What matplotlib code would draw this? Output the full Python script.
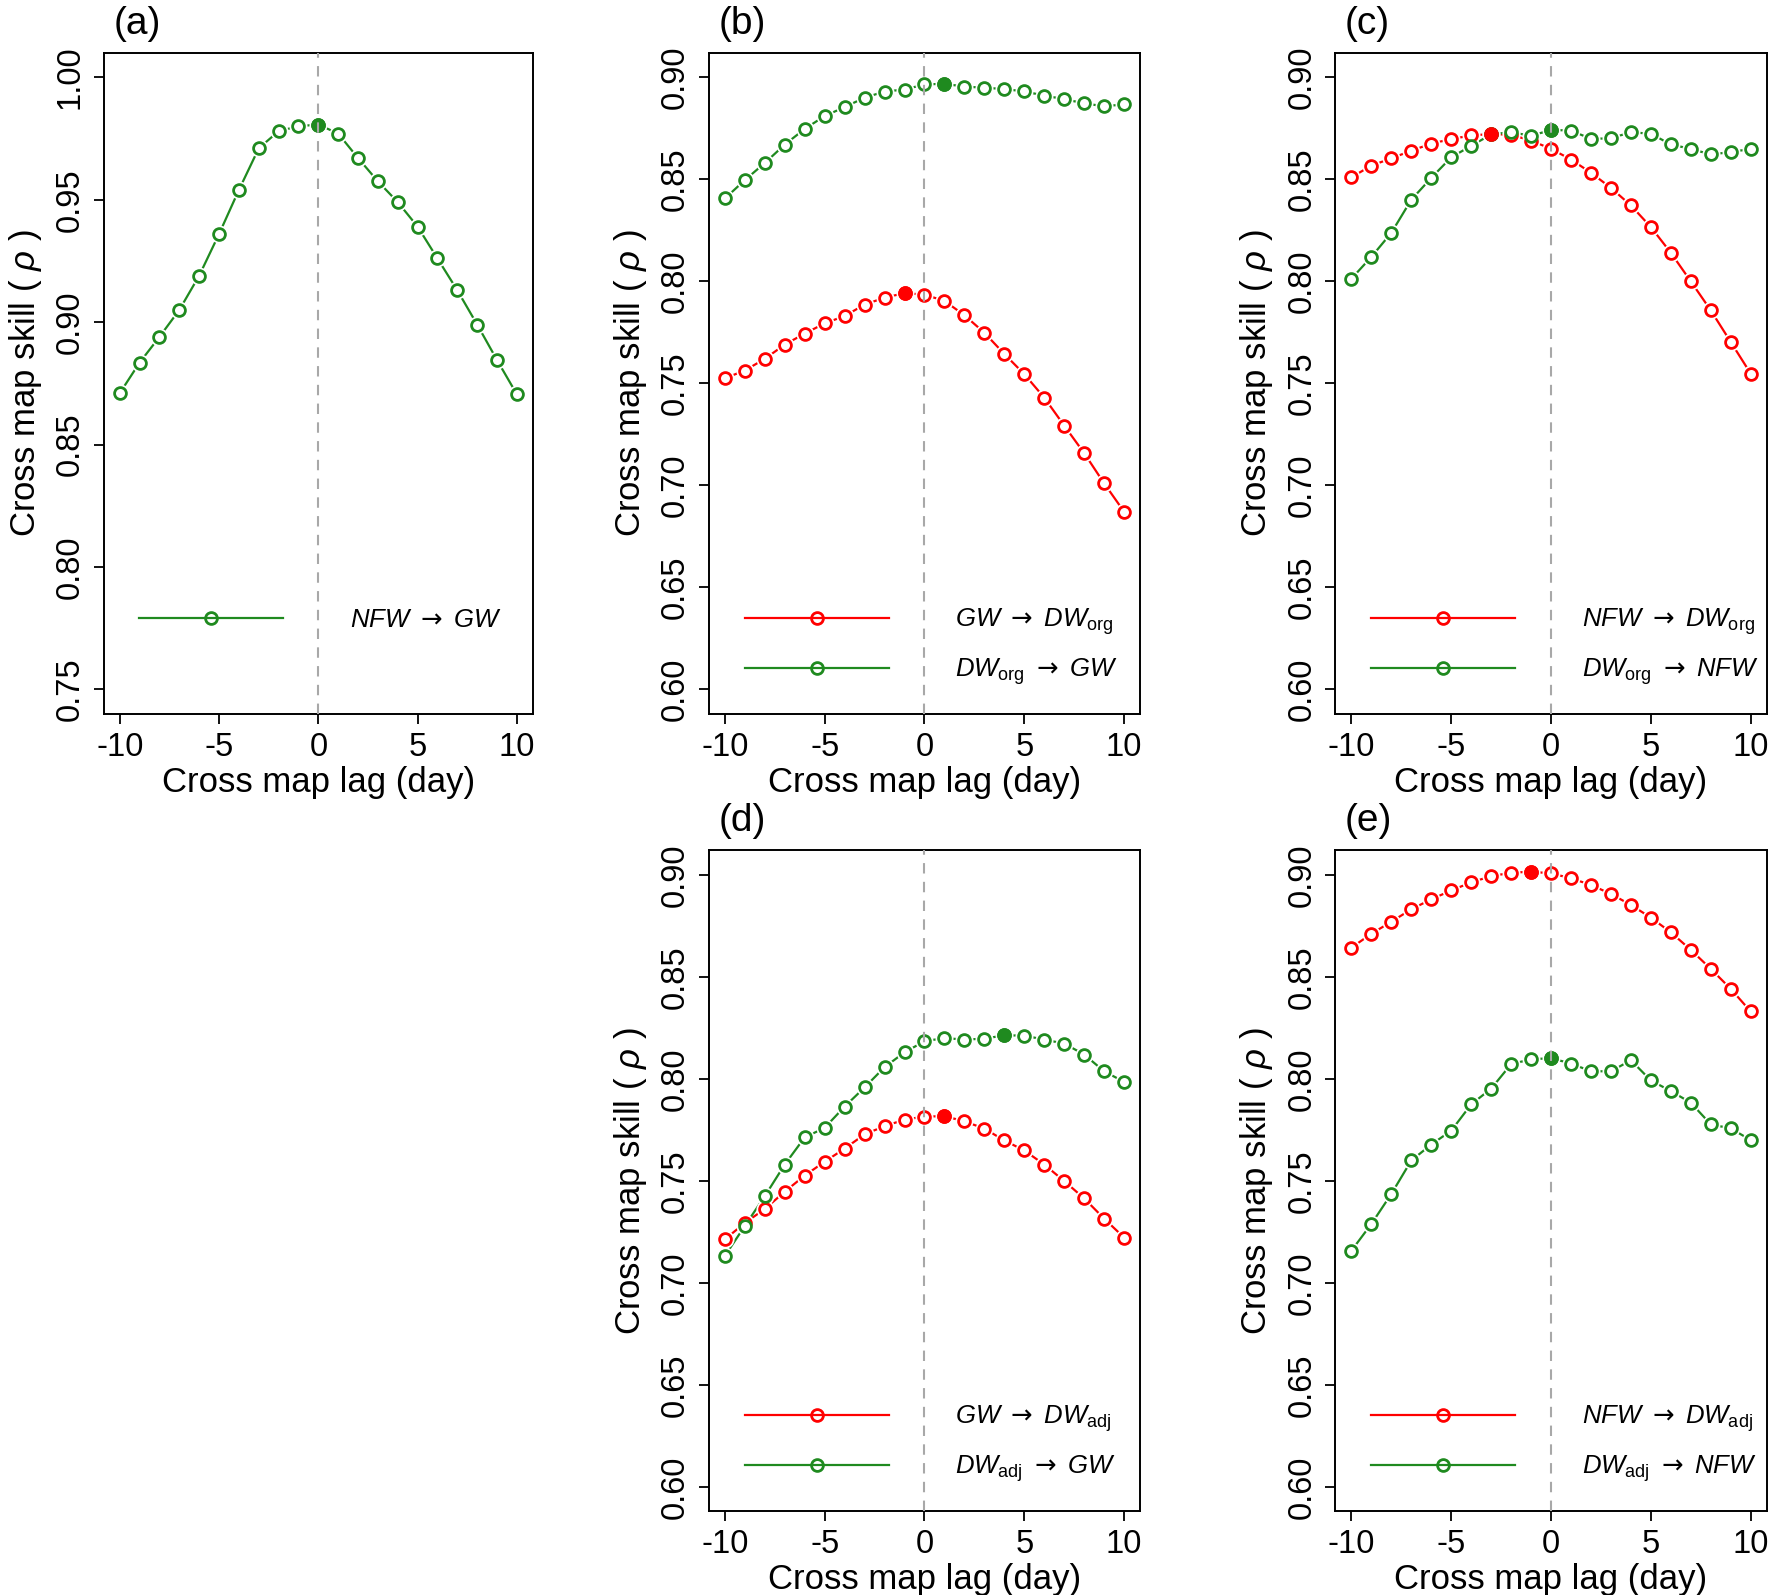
import numpy as np
import matplotlib
matplotlib.use("Agg")
import matplotlib.pyplot as plt
from matplotlib.lines import Line2D
from matplotlib.ticker import FormatStrFormatter

plt.rcParams['font.family'] = ['Liberation Sans', 'DejaVu Sans']
plt.rcParams['mathtext.fontset'] = 'custom'
plt.rcParams['mathtext.rm'] = 'Liberation Sans'
plt.rcParams['mathtext.it'] = 'Liberation Sans:italic'
plt.rcParams['mathtext.sf'] = 'DejaVu Sans'
plt.rcParams['axes.unicode_minus'] = False

# cross map lags (day)
lags = [-10, -9, -8, -7, -6, -5, -4, -3, -2, -1, 0, 1, 2, 3, 4, 5, 6, 7, 8, 9, 10]

# (a) NFW -> GW
a_nfw_gw = [0.871, 0.8835, 0.894, 0.905, 0.919, 0.936, 0.954, 0.971, 0.978, 0.980, 0.9807,
            0.977, 0.967, 0.9575, 0.949, 0.939, 0.926, 0.913, 0.899, 0.8845, 0.8705]

# (b) GW <-> DW_org
b_gw_dworg = [0.7525, 0.7563, 0.762, 0.769, 0.7744, 0.7794, 0.783, 0.7886, 0.792, 0.7942, 0.7935,
              0.7904, 0.7834, 0.7748, 0.7644, 0.7545, 0.7430, 0.7293, 0.7158, 0.7010, 0.6871]
b_dworg_gw = [0.8406, 0.8496, 0.858, 0.867, 0.8747, 0.881, 0.8854, 0.890, 0.893, 0.894, 0.8965,
              0.8968, 0.8954, 0.8949, 0.8942, 0.8931, 0.891, 0.8893, 0.8872, 0.8858, 0.8867]

# (c) NFW <-> DW_org
c_nfw_dworg = [0.851, 0.8567, 0.8603, 0.864, 0.8675, 0.8697, 0.8715, 0.8722, 0.8718, 0.869, 0.8649,
               0.8597, 0.8532, 0.8458, 0.8372, 0.8266, 0.8140, 0.8000, 0.7858, 0.7703, 0.7548]
c_dworg_nfw = [0.8013, 0.812, 0.8238, 0.840, 0.8507, 0.8608, 0.8664, 0.872, 0.8731, 0.8713, 0.8742,
               0.8739, 0.8698, 0.8701, 0.8731, 0.8723, 0.8671, 0.8649, 0.8622, 0.8633, 0.8649]

# (d) GW <-> DW_adj
d_gw_dwadj = [0.7213, 0.7294, 0.7362, 0.7447, 0.7526, 0.7594, 0.7658, 0.7728, 0.7768, 0.780, 0.7815,
              0.7817, 0.7792, 0.7756, 0.7698, 0.7649, 0.7580, 0.7499, 0.7414, 0.7315, 0.7222]
d_dwadj_gw = [0.7132, 0.7279, 0.7425, 0.758, 0.7713, 0.776, 0.7864, 0.7958, 0.8057, 0.813, 0.8184,
              0.8200, 0.8192, 0.8197, 0.8213, 0.8212, 0.8192, 0.8173, 0.8119, 0.8037, 0.7985]

# (e) NFW <-> DW_adj
e_nfw_dwadj = [0.8643, 0.8711, 0.877, 0.8831, 0.888, 0.8923, 0.8963, 0.8993, 0.901, 0.9015, 0.9007,
               0.8983, 0.8950, 0.8906, 0.8852, 0.8790, 0.8718, 0.8632, 0.8539, 0.8441, 0.8330]
e_dwadj_nfw = [0.7158, 0.7289, 0.7436, 0.760, 0.7678, 0.7746, 0.7875, 0.7952, 0.8072, 0.8096, 0.8101,
               0.8075, 0.8037, 0.8037, 0.8091, 0.7992, 0.7940, 0.7883, 0.7777, 0.7757, 0.7700]

RED = '#ff0000'
GREEN = '#1f8a1f'
GREY = '#a8a8a8'

TICK_FS = 23.5
LABEL_FS = 25
LEG_FS = 18.5

ARROW = r'$\mathsf{\rightarrow}$'


def draw_series(ax, y, color):
    """R style type='b': line with gaps round hollow points, max point filled"""
    y = np.asarray(y)
    ax.plot(lags, y, color=color, lw=1.6, zorder=2)
    ax.plot(lags, y, 'o', ms=13, mfc='white', mec='white', mew=0, zorder=3)
    ax.plot(lags, y, 'o', ms=8.5, mfc='white', mec=color, mew=2.0, zorder=4)
    i = int(np.argmax(y))
    ax.plot(lags[i], y[i], 'o', ms=10.5, mfc=color, mec=color, mew=0, zorder=5)


def style_axes(ax, ylim, yticks, tag):
    ax.set_xlim(-10.8, 10.8)
    ax.set_ylim(*ylim)
    ax.set_xticks([-10, -5, 0, 5, 10])
    ax.set_yticks(yticks)
    ax.yaxis.set_major_formatter(FormatStrFormatter('%.2f'))
    ax.axvline(0, color=GREY, lw=1.5, ls=(0, (5, 4)), zorder=6)
    ax.tick_params(direction='out', length=7, width=1.3, labelsize=TICK_FS, pad=6)
    for lab in ax.get_yticklabels():
        lab.set_rotation(90)
        lab.set_va('center')
    for s in ax.spines.values():
        s.set_linewidth(1.4)
    ax.set_xlabel('Cross map lag (day)', fontsize=LABEL_FS, labelpad=2)
    ax.set_ylabel(r'Cross map skill ( $\rho$ )', fontsize=LABEL_FS, labelpad=8)
    ax.text(0.022, 1.044, tag, transform=ax.transAxes, fontsize=28, va='center', ha='left')


def add_legend(ax, labels, colors, y_center):
    handles = [Line2D([], [], color=c, lw=1.6, marker='o', ms=8.5, mfc='none', mec=c, mew=2.0)
               for c in colors]
    ax.legend(handles, labels, loc='center left', bbox_to_anchor=(0.083, y_center),
              frameon=False, fontsize=LEG_FS, numpoints=1, handlelength=5.6,
              handletextpad=2.6, labelspacing=0.75, borderpad=0, borderaxespad=0)


def lab(src, dst):
    return src + ' ' + ARROW + ' ' + dst


NFW = r'$\mathit{NFW}$'
GW = r'$\mathit{GW}$'
DW_ORG = r'$\mathit{DW}_{\mathrm{org}}$'
DW_ADJ = r'$\mathit{DW}_{\mathrm{adj}}$'

fig = plt.figure(figsize=(17.7, 15.95), dpi=100)

W = 0.2436
H = 0.4145
ax_a = fig.add_axes([0.0587, 0.5524, 0.2423, H])
ax_b = fig.add_axes([0.4005, 0.5524, W, H])
ax_c = fig.add_axes([0.7545, 0.5524, W, H])
ax_d = fig.add_axes([0.4005, 0.0524, W, H])
ax_e = fig.add_axes([0.7545, 0.0524, W, H])

yt_a = [0.75, 0.80, 0.85, 0.90, 0.95, 1.00]
yt = [0.60, 0.65, 0.70, 0.75, 0.80, 0.85, 0.90]

# (a)
draw_series(ax_a, a_nfw_gw, GREEN)
style_axes(ax_a, (0.74, 1.01), yt_a, '(a)')
add_legend(ax_a, [lab(NFW, GW)], [GREEN], 0.142)

# (b)
draw_series(ax_b, b_gw_dworg, RED)
draw_series(ax_b, b_dworg_gw, GREEN)
style_axes(ax_b, (0.588, 0.912), yt, '(b)')
add_legend(ax_b, [lab(GW, DW_ORG), lab(DW_ORG, GW)], [RED, GREEN], 0.102)

# (c)
draw_series(ax_c, c_nfw_dworg, RED)
draw_series(ax_c, c_dworg_nfw, GREEN)
style_axes(ax_c, (0.588, 0.912), yt, '(c)')
add_legend(ax_c, [lab(NFW, DW_ORG), lab(DW_ORG, NFW)], [RED, GREEN], 0.102)

# (d)
draw_series(ax_d, d_gw_dwadj, RED)
draw_series(ax_d, d_dwadj_gw, GREEN)
style_axes(ax_d, (0.588, 0.912), yt, '(d)')
add_legend(ax_d, [lab(GW, DW_ADJ), lab(DW_ADJ, GW)], [RED, GREEN], 0.102)

# (e)
draw_series(ax_e, e_nfw_dwadj, RED)
draw_series(ax_e, e_dwadj_nfw, GREEN)
style_axes(ax_e, (0.588, 0.912), yt, '(e)')
add_legend(ax_e, [lab(NFW, DW_ADJ), lab(DW_ADJ, NFW)], [RED, GREEN], 0.102)

fig.savefig('out.png', dpi=100)
